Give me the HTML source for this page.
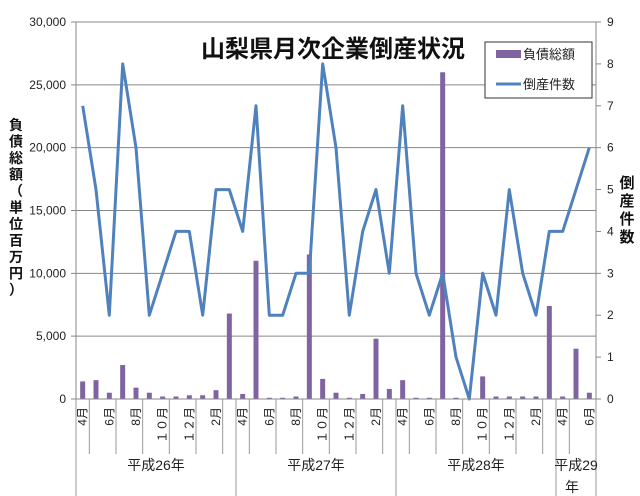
<!DOCTYPE html>
<html><head><meta charset="utf-8"><style>
html,body{margin:0;padding:0;background:#fff;}
svg{display:block;font-family:"Liberation Sans","Noto Sans CJK JP",sans-serif;}
</style></head><body>
<svg id="c" width="640" height="496" viewBox="0 0 640 496" xmlns="http://www.w3.org/2000/svg"></svg>
<script>
const s=document.getElementById('c');
const L=76,R=596,T=22,B=399,N=39,cw=(R-L)/N;
let h='';
for(let i=0;i<=6;i++){const y=B-(B-T)*i/6;h+=`<line x1="${L-5}" y1="${y}" x2="${R}" y2="${y}" stroke="#888" stroke-width="1"/>`;
h+=`<text x="${L-10}" y="${y+4}" font-size="12" text-anchor="end" fill="#222">${(i*5000).toLocaleString('en-US')}</text>`;}
for(let i=0;i<=9;i++){const y=B-(B-T)*i/9;h+=`<line x1="${R}" y1="${y}" x2="${R+5}" y2="${y}" stroke="#888"/>`;
h+=`<text x="${R+11}" y="${y+4}" font-size="12" fill="#222">${i}</text>`;}
h+=`<line x1="${L}" y1="${T}" x2="${L}" y2="${B}" stroke="#888"/><line x1="${R}" y1="${T}" x2="${R}" y2="${B}" stroke="#888"/>`;
const bars=[1400,1500,500,2700,900,500,200,200,300,300,700,6800,400,11000,100,100,200,11500,1600,500,100,400,4800,800,1500,100,100,26000,100,0,1800,200,200,200,200,7400,200,4000,500];
const cnt=[7,5,2,8,6,2,3,4,4,2,5,5,4,7,2,2,3,3,8,6,2,4,5,3,7,3,2,3,1,0,3,2,5,3,2,4,4,5,6];
bars.forEach((v,i)=>{const cx=L+cw*(i+0.5);const bh=v/30000*(B-T);h+=`<rect x="${cx-2.5}" y="${B-bh}" width="5" height="${bh}" fill="#8064a2"/>`;});
let p=cnt.map((v,i)=>`${(L+cw*(i+0.5)).toFixed(1)},${(B-v/9*(B-T)).toFixed(1)}`).join(' ');
h+=`<polyline points="${p}" fill="none" stroke="#4f81bd" stroke-width="3" stroke-linejoin="round"/>`;
h+=`<line x1="${L}" y1="${B}" x2="${R}" y2="${B}" stroke="#888"/>`;
const mons=['4','5','6','7','8','9','１０','11','１２','1','2','3'];
for(let i=0;i<N;i++){
  const x=L+cw*i;
  if(i%2==0){const cx=L+cw*(i+0.5);const m=mons[i%12];
    h+=`<text transform="translate(${cx+4},${B+8}) rotate(-90)" font-size="12" text-anchor="end" fill="#222">${m}月</text>`;}
  if(i%2==1) h+=`<line x1="${x}" y1="${B}" x2="${x}" y2="${B+55}" stroke="#999"/>`;
}
[0,12,24,36,39].forEach(i=>{const x=L+cw*i;h+=`<line x1="${x}" y1="${B}" x2="${x}" y2="496" stroke="#999"/>`;});
[[0,12,'平成26年'],[12,24,'平成27年'],[24,36,'平成28年']].forEach(a=>{const cx=L+cw*(a[0]+a[1])/2;h+=`<text x="${cx}" y="470" font-size="14" text-anchor="middle" fill="#222">${a[2]}</text>`;});
const c29=L+cw*37.5;
h+=`<text x="${c29}" y="470" font-size="14" text-anchor="middle" fill="#222">平成29</text><text x="${c29-4}" y="492" font-size="14" text-anchor="middle" fill="#222">年</text>`;
h+=`<text x="333" y="57" font-size="24" font-weight="bold" text-anchor="middle" fill="#111">山梨県月次企業倒産状況</text>`;
h+=`<rect x="485" y="42" width="107" height="56" fill="#fff" stroke="#333"/>`;
h+=`<rect x="496" y="50" width="25" height="8" fill="#8064a2"/><text x="523" y="59" font-size="13" fill="#222">負債総額</text>`;
h+=`<line x1="496" y1="84" x2="521" y2="84" stroke="#4f81bd" stroke-width="3"/><text x="523" y="89" font-size="13" fill="#222">倒産件数</text>`;
const lt='負債総額（単位百万円）';
[...lt].forEach((ch,i)=>{h+=`<text x="16" y="${130+i*16.5}" font-size="14" font-weight="bold" text-anchor="middle" fill="#111">${ch}</text>`;});
[...'倒産件数'].forEach((ch,i)=>{h+=`<text x="627" y="${188+i*18}" font-size="15" font-weight="bold" text-anchor="middle" fill="#111">${ch}</text>`;});
s.innerHTML=h;
</script>
</body></html>
